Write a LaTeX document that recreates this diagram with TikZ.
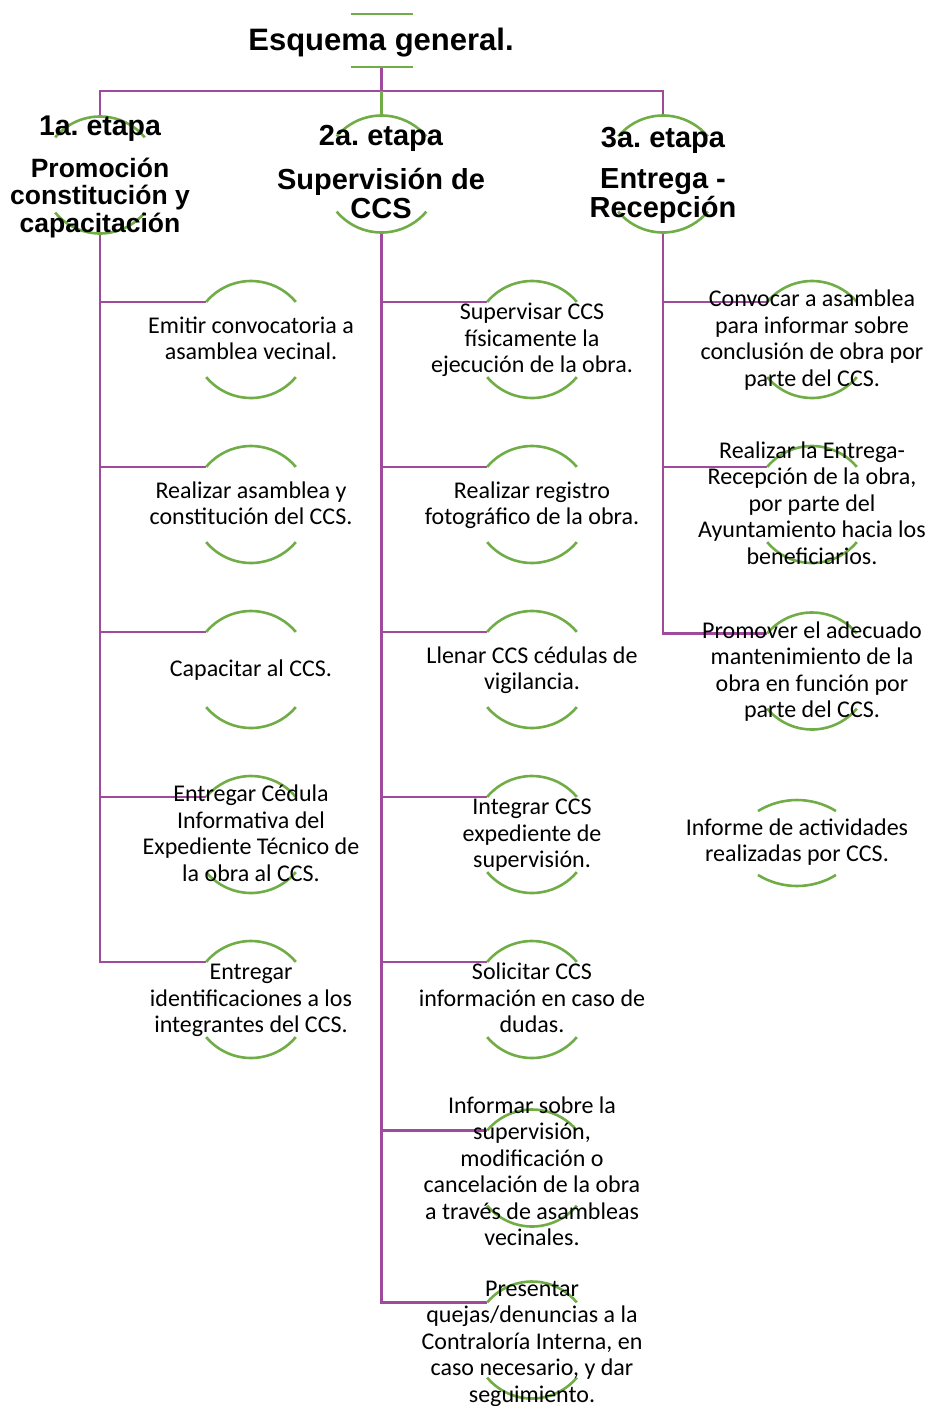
\documentclass[tikz,border=0pt]{standalone}
\usepackage{fontspec}
\setmainfont{Carlito}
\newfontfamily\headfont{Liberation Sans}
\definecolor{purp}{RGB}{159,74,156}
\definecolor{grn}{RGB}{112,173,71}
\frenchspacing
\begin{document}
\begin{tikzpicture}[x=1pt,y=1pt,
  ring/.style={circle, minimum size=117pt, inner sep=0pt, outer sep=0pt},
  txt/.style={align=center, font=\fontsize{24}{26.5}\selectfont, inner sep=0pt},
  head/.style={align=center, inner sep=0pt, font=\headfont\bfseries\fontsize{29}{29}\selectfont},
  conn/.style={draw=purp, line width=2.4pt},
  arcline/.style={draw=grn, line width=2.6pt},
]
\useasboundingbox (0,0) rectangle (931,-1406);
% title
\node[minimum width=62pt, minimum height=53pt, inner sep=0pt, outer sep=0pt] (tf) at (381.5,-40.5) {};
\coordinate (bus) at (381.5,-91);
% stage rings
\node[ring] (h1) at (100,-175) {};
\node[ring] (h2) at (381.5,-174) {};
\node[ring] (h3) at (663,-174) {};
% column 1 rings
\node[ring] (r11) at (251,-339.5) {};
\node[ring] (r12) at (251,-504.5) {};
\node[ring] (r13) at (251,-669.5) {};
\node[ring] (r14) at (251,-834.5) {};
\node[ring] (r15) at (251,-999.5) {};
% column 2 rings
\node[ring] (r21) at (532,-339.5) {};
\node[ring] (r22) at (532,-504.5) {};
\node[ring] (r23) at (532,-669.5) {};
\node[ring] (r24) at (532,-834.5) {};
\node[ring] (r25) at (532,-999.5) {};
\node[ring] (r26) at (532,-1168) {};
\node[ring] (r27) at (532,-1340) {};
% column 3 rings
\node[ring] (r31) at (812,-339.5) {};
\node[ring] (r32) at (812,-504.5) {};
\node[ring] (r33) at (812,-671) {};
% connectors
\draw[conn] (h1.north) |- (bus) -| (h3.north);
\draw[conn] (tf.south) -- (bus);
\draw[arcline] (bus) -- (h2.north);
\foreach \n in {r11,r12,r13,r14,r15} \draw[conn] (h1.south) |- (\n.140);
\foreach \n in {r21,r22,r23,r24,r25,r26,r27} \draw[conn] (h2.south) |- (\n.140);
\foreach \n in {r31,r32,r33} \draw[conn] (h3.south) |- (\n.140);
% title lines
\draw[arcline] (tf.north west) -- (tf.north east);
\draw[arcline] (tf.south west) -- (tf.south east);
% arcs
\foreach \n in {h1,h2,h3,r11,r12,r13,r14,r15,r21,r22,r23,r24,r25,r26,r27,r31,r32,r33}{
  \draw[arcline] (\n.140) arc[start angle=140, end angle=40, radius=58.5pt];
  \draw[arcline] (\n.220) arc[start angle=220, end angle=320, radius=58.5pt];
}
% informe (no connector)
\node[txt] (inf) at (797,-843) {\strut Informe de actividades\\realizadas por CCS.\strut};
\draw[arcline] ([shift={(-39,32)}]inf.center) arc[start angle=121.5, end angle=58.5, radius=74.6pt];
\draw[arcline] ([shift={(-39,-32)}]inf.center) arc[start angle=238.5, end angle=301.5, radius=74.6pt];
% texts
\node[inner sep=0pt, align=center, font=\headfont\bfseries\fontsize{31}{32}\selectfont] (title) at (381,-43.6) {\strut Esquema general.};
\node[head, font=\headfont\bfseries\fontsize{26.5}{27.4}\selectfont] (h1t) at (100,-178) {{\fontsize{28.5}{27.4}\selectfont\strut 1a. etapa}\\[13.6pt]Promoción\\constitución y\\capacitación\strut};
\node[head] (h2t) at (381,-176.2) {\strut 2a. etapa\\[14pt]Supervisión de\\CCS\strut};
\node[head] (h3t) at (663,-176.7) {\strut 3a. etapa\\[12pt]Entrega -\\Recepción\strut};
\node[txt] (t11) at ([yshift=-1.5pt]r11) {\strut Emitir convocatoria a\\asamblea vecinal.\strut};
\node[txt] (t12) at ([yshift=-1.5pt]r12) {\strut Realizar asamblea y\\constitución del CCS.\strut};
\node[txt] (t13) at ([yshift=-1.5pt]r13) {\strut Capacitar al CCS.\strut};
\node[txt] (t14) at ([yshift=-1.5pt]r14) {\strut Entregar Cédula\\Informativa del\\Expediente Técnico de\\la obra al CCS.\strut};
\node[txt] (t15) at ([yshift=-1.5pt]r15) {\strut Entregar\\identificaciones a los\\integrantes del CCS.\strut};
\node[txt] (t21) at ([yshift=-1.5pt]r21) {\strut Supervisar CCS\\físicamente la\\ejecución de la obra.\strut};
\node[txt] (t22) at ([yshift=-1.5pt]r22) {\strut Realizar registro\\fotográfico de la obra.\strut};
\node[txt] (t23) at ([yshift=-1.5pt]r23) {\strut Llenar CCS cédulas de\\vigilancia.\strut};
\node[txt] (t24) at ([yshift=-1.5pt]r24) {\strut Integrar CCS\\expediente de\\supervisión.\strut};
\node[txt] (t25) at ([yshift=-1.5pt]r25) {\strut Solicitar CCS\\información en caso de\\dudas.\strut};
\node[txt] (t26) at ([yshift=-6pt]r26) {\strut Informar sobre la\\supervisión,\\modificación o\\cancelación de la obra\\a través de asambleas\\vecinales.\strut};
\node[txt] (t27) at ([yshift=-4pt]r27) {\strut Presentar\\quejas/denuncias a la\\Contraloría Interna, en\\caso necesario, y dar\\seguimiento.\strut};
\node[txt] (t31) at ([yshift=-1.5pt]r31) {\strut Convocar a asamblea\\para informar sobre\\conclusión de obra por\\parte del CCS.\strut};
\node[txt] (t32) at ([yshift=-1.5pt]r32) {\strut Realizar la Entrega-\\Recepción de la obra,\\por parte del\\Ayuntamiento hacia los\\beneficiarios.\strut};
\node[txt] (t33) at ([yshift=-1.5pt]r33) {\strut Promover el adecuado\\mantenimiento de la\\obra en función por\\parte del CCS.\strut};
\end{tikzpicture}
\end{document}
